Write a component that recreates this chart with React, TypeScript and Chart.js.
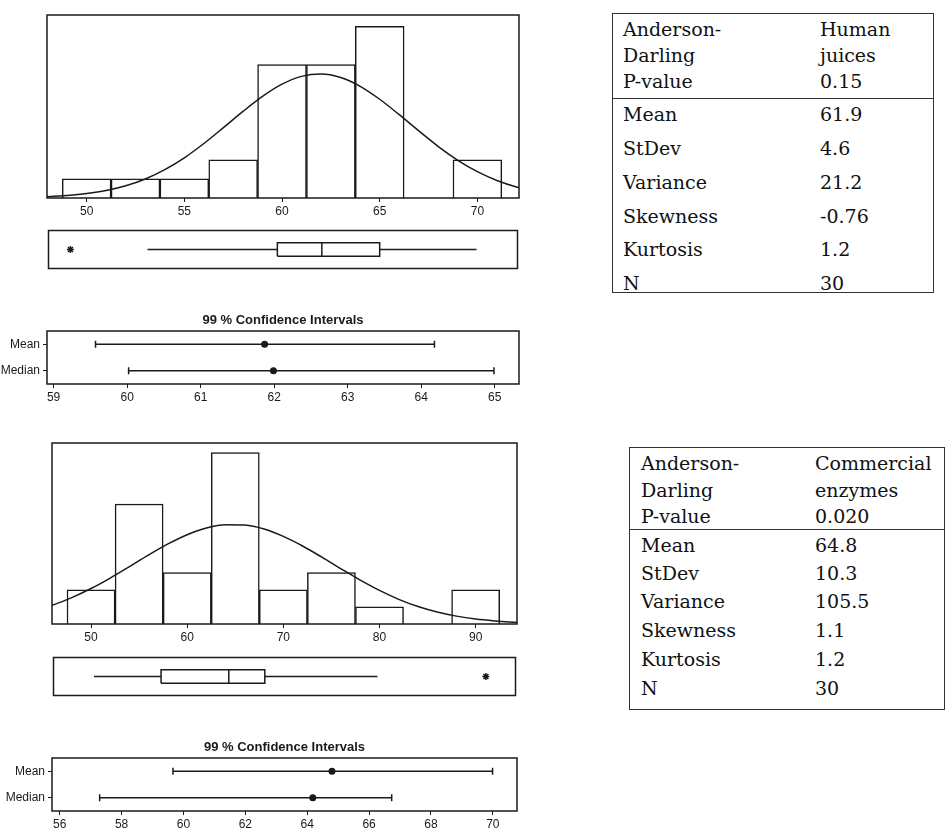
import React, { useEffect, useRef } from 'react';
import { Chart, registerables } from 'chart.js';
Chart.register(...registerables);

// ---------- Human juices ----------
const hjBinCenters = [50, 52.5, 55, 57.5, 60, 62.5, 65, 67.5, 70];
const hjCounts = [1, 1, 1, 2, 7, 7, 9, 0, 2];
const hjCurveX = [47, 48, 49, 50, 51, 52, 53, 54, 55, 56, 57, 58, 59, 60, 61, 62, 63, 64, 65, 66, 67, 68, 69, 70, 71, 72, 73];
const hjCurveY = [0.03, 0.07, 0.13, 0.23, 0.39, 0.64, 1.0, 1.49, 2.11, 2.86, 3.69, 4.54, 5.33, 5.97, 6.38, 6.5, 6.32, 5.86, 5.18, 4.37, 3.52, 2.7, 1.98, 1.38, 0.92, 0.58, 0.35];
const hjXTicks = [50, 55, 60, 65, 70];
const hjBoxStats = [53.07, 59.76, 62.05, 65.03, 70.02]; // whisker low, Q1, median, Q3, whisker high
const hjOutliers = [49.1];
const hjCiMean = [59.57, 61.87, 64.18]; // low, estimate, high
const hjCiMedian = [60.02, 61.99, 64.99];
const hjCiTicks = [59, 60, 61, 62, 63, 64, 65];
const hjHeaderLeft = ['Anderson-', 'Darling', 'P-value'];
const hjHeaderRight = ['Human', 'juices', '0.15'];
const hjStatValues = ['61.9', '4.6', '21.2', '-0.76', '1.2', '30'];

// ---------- Commercial enzymes ----------
const ceBinCenters = [50, 55, 60, 65, 70, 75, 80, 85, 90];
const ceCounts = [2, 7, 3, 10, 2, 3, 1, 0, 2];
const ceCurveX = [44, 46, 48, 50, 52, 54, 56, 58, 60, 62, 64, 66, 68, 70, 72, 74, 76, 78, 80, 82, 84, 86, 88, 90, 92, 94, 96];
const ceCurveY = [0.76, 1.1, 1.54, 2.07, 2.68, 3.35, 4.03, 4.67, 5.21, 5.6, 5.79, 5.77, 5.54, 5.11, 4.55, 3.9, 3.22, 2.56, 1.96, 1.44, 1.02, 0.7, 0.46, 0.29, 0.18, 0.1, 0.06];
const ceXTicks = [50, 60, 70, 80, 90];
const ceBoxStats = [50.18, 57.2, 64.29, 68.06, 79.85];
const ceOutliers = [91.2];
const ceCiMean = [59.66, 64.8, 69.99];
const ceCiMedian = [57.29, 64.18, 66.73];
const ceCiTicks = [56, 58, 60, 62, 64, 66, 68, 70];
const ceHeaderLeft = ['Anderson-', 'Darling', 'P-value'];
const ceHeaderRight = ['Commercial', 'enzymes', '0.020'];
const ceStatValues = ['64.8', '10.3', '105.5', '1.1', '1.2', '30'];

const statLabels = ['Mean', 'StDev', 'Variance', 'Skewness', 'Kurtosis', 'N'];
const ciRowLabels = ['Mean', 'Median'];
const ciTitle = '99 % Confidence Intervals';

const INK = '#1a1a1a';
const AXIS_FONT = { family: '"Liberation Sans", Arial, sans-serif', size: 12 };

const framePlugin = {
  id: 'frameBox',
  afterDraw(chart: any, _args: any, opts: any) {
    const { ctx, chartArea } = chart;
    const { left, top, right, bottom } = chartArea;
    ctx.save();
    ctx.strokeStyle = INK;
    ctx.lineWidth = 1.5;
    ctx.strokeRect(left, top, right - left, bottom - top);
    if (opts && opts.title) {
      ctx.fillStyle = INK;
      ctx.font = 'bold 13px "Liberation Sans", Arial, sans-serif';
      ctx.textAlign = 'center';
      ctx.textBaseline = 'middle';
      ctx.fillText(opts.title, (left + right) / 2, top - 11);
    }
    ctx.restore();
  },
};

type Rect = { l: number; t: number; r: number; b: number };
type Space = { l: number; t: number; r: number; b: number };

function ChartBox({ frame, space, yW, xH, build }: { frame: Rect; space: Space; yW: number; xH: number; build: (padding: any, yFit: any, xFit: any) => any }) {
  const ref = useRef<HTMLCanvasElement | null>(null);
  const w = frame.r - frame.l + space.l + space.r;
  const h = frame.b - frame.t + space.t + space.b;
  useEffect(() => {
    const padding = { left: space.l - yW, right: space.r, top: space.t, bottom: space.b - xH };
    const yFit = (s: any) => { s.width = yW; };
    const xFit = (s: any) => { s.height = xH; };
    const cfg = build(padding, yFit, xFit);
    const chart = new Chart(ref.current as HTMLCanvasElement, cfg);
    return () => chart.destroy();
  }, []);
  return (
    <canvas
      ref={ref}
      width={w}
      height={h}
      style={{ position: 'absolute', left: frame.l - space.l, top: frame.t - space.t, width: w, height: h }}
    />
  );
}

const baseOptions = (padding: any) => ({
  animation: false,
  responsive: false,
  events: [],
  layout: { padding },
  plugins: { legend: { display: false }, tooltip: { enabled: false } },
});

function histogramConfig(centers: number[], counts: number[], cx: number[], cy: number[], ticks: number[], xmin: number, xmax: number, ymax: number) {
  return (padding: any, _yFit: any, xFit: any) => ({
    type: 'bar',
    data: {
      datasets: [
        {
          type: 'line',
          data: cx.map((x, i) => ({ x, y: cy[i] })),
          borderColor: INK,
          borderWidth: 1.5,
          pointRadius: 0,
          cubicInterpolationMode: 'monotone',
          fill: false,
          order: 1,
        },
        {
          type: 'bar',
          data: centers.map((x, i) => ({ x, y: counts[i] })),
          backgroundColor: '#ffffff',
          borderColor: INK,
          borderWidth: 1.5,
          barPercentage: 1,
          categoryPercentage: 1,
          order: 2,
        },
      ],
    },
    options: {
      ...baseOptions(padding),
      scales: {
        x: {
          type: 'linear',
          min: xmin,
          max: xmax,
          offset: false,
          afterBuildTicks: (s: any) => { s.ticks = ticks.map((v) => ({ value: v })); },
          afterFit: xFit,
          grid: { display: true, offset: false, drawOnChartArea: false, tickLength: 4, color: INK },
          border: { display: false },
          ticks: { font: AXIS_FONT, color: INK, padding: 2, maxRotation: 0 },
        },
        y: { display: false, min: 0, max: ymax },
      },
      plugins: { ...baseOptions(padding).plugins, frameBox: {} },
    },
    plugins: [framePlugin],
  });
}

const BOX_HALF = 0.36;

function boxplotConfig(stats: number[], outliers: number[], xmin: number, xmax: number) {
  const [wl, q1, med, q3, wh] = stats;
  const line = (pts: { x: number; y: number }[]) => ({
    data: pts,
    showLine: true,
    borderColor: INK,
    borderWidth: 1.5,
    pointRadius: 0,
    tension: 0,
  });
  return (padding: any) => ({
    type: 'scatter',
    data: {
      datasets: [
        line([{ x: q1, y: -BOX_HALF }, { x: q3, y: -BOX_HALF }, { x: q3, y: BOX_HALF }, { x: q1, y: BOX_HALF }, { x: q1, y: -BOX_HALF }]),
        line([{ x: med, y: -BOX_HALF }, { x: med, y: BOX_HALF }]),
        line([{ x: wl, y: 0 }, { x: q1, y: 0 }]),
        line([{ x: q3, y: 0 }, { x: wh, y: 0 }]),
        {
          data: outliers.map((x) => ({ x, y: 0 })),
          pointStyle: 'star',
          pointRadius: 3.5,
          borderColor: INK,
          borderWidth: 1.5,
          backgroundColor: INK,
        },
      ],
    },
    options: {
      ...baseOptions(padding),
      scales: {
        x: { type: 'linear', display: false, min: xmin, max: xmax },
        y: { type: 'linear', display: false, min: -1, max: 1 },
      },
      plugins: { ...baseOptions(padding).plugins, frameBox: {} },
    },
    plugins: [framePlugin],
  });
}

function ciConfig(meanCi: number[], medianCi: number[], ticks: number[], xmin: number, xmax: number) {
  const rows = [meanCi, medianCi];
  const datasets: any[] = [];
  rows.forEach((ci, r) => {
    datasets.push({
      data: [{ x: ci[0], y: r }, { x: ci[2], y: r }],
      showLine: true,
      borderColor: INK,
      borderWidth: 1.5,
      pointStyle: 'line',
      rotation: 90,
      pointRadius: 3.5,
      pointBorderWidth: 1.5,
      pointBorderColor: INK,
    });
    datasets.push({
      data: [{ x: ci[1], y: r }],
      pointStyle: 'circle',
      pointRadius: 3.5,
      backgroundColor: INK,
      borderColor: INK,
      borderWidth: 0,
    });
  });
  return (padding: any, yFit: any, xFit: any) => ({
    type: 'scatter',
    data: { datasets },
    options: {
      ...baseOptions(padding),
      scales: {
        x: {
          type: 'linear',
          min: xmin,
          max: xmax,
          afterBuildTicks: (s: any) => { s.ticks = ticks.map((v) => ({ value: v })); },
          afterFit: xFit,
          grid: { display: true, drawOnChartArea: false, tickLength: 4, color: INK },
          border: { display: false },
          ticks: { font: AXIS_FONT, color: INK, padding: 2, maxRotation: 0 },
        },
        y: {
          type: 'linear',
          min: -0.5,
          max: 1.5,
          reverse: true,
          afterBuildTicks: (s: any) => { s.ticks = ciRowLabels.map((_, i) => ({ value: i })); },
          afterFit: yFit,
          grid: { display: true, drawOnChartArea: false, tickLength: 4, color: INK },
          border: { display: false },
          ticks: { font: AXIS_FONT, color: INK, padding: 3, callback: (v: any) => ciRowLabels[v] },
        },
      },
      plugins: { ...baseOptions(padding).plugins, frameBox: { title: ciTitle } },
    },
    plugins: [framePlugin],
  });
}

const SERIF = '"DejaVu Serif", Cambria, serif';

function StatTable({ box, divider, headerYs, rowYs, col1, col2, headerLeft, headerRight, values }: any) {
  const lh = 24;
  const text = (s: string, x: number, y: number, key: string) => (
    <div
      key={key}
      style={{ position: 'absolute', left: x, top: y - lh / 2, height: lh, lineHeight: lh + 'px', fontFamily: SERIF, fontSize: 19, color: '#111', whiteSpace: 'nowrap' }}
    >
      {s}
    </div>
  );
  const items: any[] = [];
  headerLeft.forEach((s: string, i: number) => items.push(text(s, col1, headerYs[i], 'hl' + i)));
  headerRight.forEach((s: string, i: number) => items.push(text(s, col2, headerYs[i], 'hr' + i)));
  statLabels.forEach((s, i) => items.push(text(s, col1, rowYs[i], 'sl' + i)));
  values.forEach((s: string, i: number) => items.push(text(s, col2, rowYs[i], 'sv' + i)));
  return (
    <>
      <div style={{ position: 'absolute', left: box.l, top: box.t, width: box.r - box.l, height: box.b - box.t, border: '1.5px solid #333', boxSizing: 'border-box' }} />
      <div style={{ position: 'absolute', left: box.l, top: divider, width: box.r - box.l, height: 0, borderTop: '1.5px solid #333' }} />
      {items}
    </>
  );
}

export default function App() {
  return (
    <div style={{ position: 'absolute', left: 0, top: 0, width: 945, height: 829, background: '#fff', overflow: 'hidden' }}>
      <ChartBox
        frame={{ l: 47, t: 15, r: 519, b: 198 }}
        space={{ l: 5, t: 5, r: 8, b: 22 }}
        yW={0}
        xH={22}
        build={histogramConfig(hjBinCenters, hjCounts, hjCurveX, hjCurveY, hjXTicks, 47.97, 72.13, 9.6)}
      />
      <ChartBox
        frame={{ l: 47, t: 229, r: 519, b: 270 }}
        space={{ l: 4, t: 4, r: 4, b: 4 }}
        yW={0}
        xH={0}
        build={boxplotConfig(hjBoxStats, hjOutliers, 47.97, 72.13)}
      />
      <ChartBox
        frame={{ l: 47, t: 331, r: 519, b: 384 }}
        space={{ l: 47, t: 22, r: 10, b: 22 }}
        yW={46}
        xH={22}
        build={ciConfig(hjCiMean, hjCiMedian, hjCiTicks, 58.91, 65.33)}
      />
      <ChartBox
        frame={{ l: 52, t: 443, r: 517, b: 624 }}
        space={{ l: 5, t: 5, r: 8, b: 22 }}
        yW={0}
        xH={22}
        build={histogramConfig(ceBinCenters, ceCounts, ceCurveX, ceCurveY, ceXTicks, 45.94, 94.3, 10.56)}
      />
      <ChartBox
        frame={{ l: 52, t: 656, r: 517, b: 697 }}
        space={{ l: 4, t: 4, r: 4, b: 4 }}
        yW={0}
        xH={0}
        build={boxplotConfig(ceBoxStats, ceOutliers, 45.94, 94.3)}
      />
      <ChartBox
        frame={{ l: 52, t: 758, r: 517, b: 811 }}
        space={{ l: 52, t: 22, r: 10, b: 18 }}
        yW={51}
        xH={18}
        build={ciConfig(ceCiMean, ceCiMedian, ceCiTicks, 55.75, 70.78)}
      />
      <StatTable
        box={{ l: 612, t: 13, r: 934, b: 293 }}
        divider={98}
        headerYs={[29, 55, 81]}
        rowYs={[114, 148, 182, 216, 249, 283]}
        col1={623}
        col2={820}
        headerLeft={hjHeaderLeft}
        headerRight={hjHeaderRight}
        values={hjStatValues}
      />
      <StatTable
        box={{ l: 629, t: 447, r: 945, b: 710 }}
        divider={529}
        headerYs={[463, 490, 516]}
        rowYs={[545, 573, 601, 630, 659, 688]}
        col1={641}
        col2={815}
        headerLeft={ceHeaderLeft}
        headerRight={ceHeaderRight}
        values={ceStatValues}
      />
    </div>
  );
}
